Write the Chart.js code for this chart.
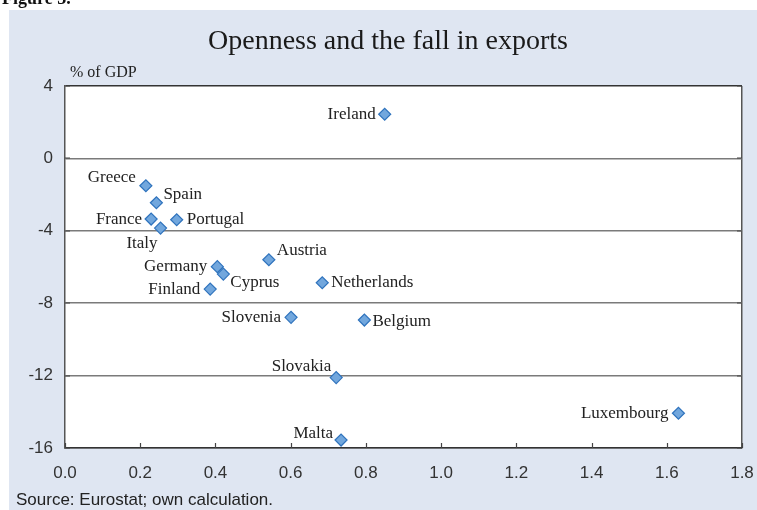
<!DOCTYPE html>
<html>
<head>
<meta charset="utf-8">
<title>Openness and the fall in exports</title>
<script src="https://cdn.jsdelivr.net/npm/chart.js@4/dist/chart.umd.min.js"></script>
<style>
  body { margin: 0; background: #ffffff; }
  #chart { display: block; }
</style>
</head>
<body>
<canvas id="chart" width="757" height="510"></canvas>
<script>
// data
const countries = ['Ireland', 'Greece', 'Spain', 'France', 'Italy', 'Portugal', 'Austria', 'Germany',
	'Cyprus', 'Finland', 'Netherlands', 'Slovenia', 'Belgium', 'Slovakia', 'Luxembourg', 'Malta'];
const openness = [0.85, 0.215, 0.243, 0.229, 0.254, 0.297, 0.542, 0.405,
	0.421, 0.386, 0.684, 0.601, 0.796, 0.721, 1.631, 0.734];
const exportFall = [2.44, -1.51, -2.45, -3.35, -3.85, -3.39, -5.6, -5.98,
	-6.39, -7.22, -6.87, -8.78, -8.93, -12.11, -14.08, -15.56];
const xTicks = [0, 0.2, 0.4, 0.6, 0.8, 1.0, 1.2, 1.4, 1.6, 1.8];
const yTicks = [4, 0, -4, -8, -12, -16];

// where each country name sits next to its marker: [align, dx, dy]
const labelPlacement = [
	['right', -9, 0], ['right', -10, -8], ['left', 7, -8], ['right', -9, 0],
	['right', -3, 15], ['left', 10, 0], ['left', 8, -9], ['right', -10, 0],
	['left', 7, 8], ['right', -10, 0], ['left', 9, 0], ['right', -10, 0],
	['left', 8, 1], ['right', -5, -11], ['right', -10, 0], ['right', -8, -7]
];

const PANEL = '#dfe6f2';
const SERIF = '"Liberation Serif", "Times New Roman", serif';
const SANS = '"Liberation Sans", Arial, sans-serif';

const points = openness.map((x, i) => ({ x: x, y: exportFall[i] }));

const decorPlugin = {
	id: 'decor',
	beforeDraw(chart) {
		const ctx = chart.ctx;
		const a = chart.chartArea;
		ctx.save();
		ctx.fillStyle = '#ffffff';
		ctx.fillRect(0, 0, chart.width, chart.height);
		ctx.fillStyle = PANEL;
		ctx.fillRect(9, 10, chart.width - 9, chart.height - 10);
		ctx.fillStyle = '#ffffff';
		ctx.fillRect(a.left, a.top, a.right - a.left, a.bottom - a.top);

		// figure number, cut off at the top edge
		ctx.fillStyle = '#111';
		ctx.font = 'bold 18px ' + SERIF;
		ctx.textBaseline = 'alphabetic';
		ctx.textAlign = 'left';
		ctx.fillText('Figure 3.', 2, 4);

		// title
		ctx.fillStyle = '#1a1a1a';
		ctx.font = '28px ' + SERIF;
		ctx.textAlign = 'center';
		ctx.textBaseline = 'middle';
		ctx.fillText('Openness and the fall in exports', 388, 42);
		ctx.restore();
	},
	afterDraw(chart) {
		const ctx = chart.ctx;
		const a = chart.chartArea;
		const xs = chart.scales.x;
		const ys = chart.scales.y;
		ctx.save();
		// inner tick marks
		ctx.strokeStyle = '#444';
		ctx.lineWidth = 1.2;
		ctx.beginPath();
		xs.ticks.forEach(t => {
			const px = Math.round(xs.getPixelForValue(t.value)) + 0.5;
			ctx.moveTo(px, a.bottom);
			ctx.lineTo(px, a.bottom - 5);
		});
		ys.ticks.forEach(t => {
			const py = Math.round(ys.getPixelForValue(t.value));
			ctx.moveTo(a.left, py);
			ctx.lineTo(a.left + 5, py);
			ctx.moveTo(a.right, py);
			ctx.lineTo(a.right - 5, py);
		});
		ctx.stroke();

		ctx.fillStyle = '#222';
		ctx.font = '16px ' + SERIF;
		ctx.textAlign = 'left';
		ctx.textBaseline = 'middle';
		ctx.fillText('% of GDP', 70, 73);

		ctx.fillStyle = '#222';
		ctx.font = '17px ' + SANS;
		ctx.fillText('Source: Eurostat; own calculation.', 16, 500);
		ctx.restore();
	},
	afterDatasetsDraw(chart) {
		const ctx = chart.ctx;
		const meta = chart.getDatasetMeta(0);
		ctx.save();
		ctx.fillStyle = '#222';
		ctx.font = '17px ' + SERIF;
		ctx.textBaseline = 'middle';
		meta.data.forEach((pt, i) => {
			const p = labelPlacement[i];
			ctx.textAlign = p[0];
			ctx.fillText(countries[i], pt.x + p[1], pt.y + p[2]);
		});
		ctx.restore();
	}
};

new Chart(document.getElementById('chart'), {
	type: 'scatter',
	data: {
		datasets: [{
			label: 'Openness vs fall in exports',
			data: points,
			pointStyle: 'rectRot',
			pointRadius: 6,
			pointHoverRadius: 6,
			backgroundColor: '#72a7dd',
			borderColor: '#2f73bd',
			borderWidth: 1.2
		}]
	},
	options: {
		responsive: false,
		animation: false,
		layout: {
			padding: { top: 86, left: 9, right: 15, bottom: 0 }
		},
		plugins: {
			legend: { display: false },
			tooltip: { enabled: false },
			title: { display: false }
		},
		scales: {
			x: {
				type: 'linear',
				min: xTicks[0],
				max: xTicks[xTicks.length - 1],
				afterBuildTicks: scale => {
					scale.ticks = xTicks.map(v => ({ value: v }));
				},
				afterFit: scale => {
					scale.height = 62;
					scale.paddingLeft = 0;
					scale.paddingRight = 0;
				},
				border: { color: '#333', width: 1.5 },
				grid: {
					drawTicks: false,
					lineWidth: 1.5,
					color: c => c.index === xTicks.length - 1 ? '#555' : 'rgba(0,0,0,0)'
				},
				ticks: {
					padding: 15,
					color: '#333',
					font: { family: SANS, size: 17 },
					callback: v => Number(v).toFixed(1)
				}
			},
			y: {
				type: 'linear',
				min: yTicks[yTicks.length - 1],
				max: yTicks[0],
				afterBuildTicks: scale => {
					scale.ticks = yTicks.slice().reverse().map(v => ({ value: v }));
				},
				afterFit: scale => {
					scale.width = 56;
					scale.paddingTop = 0;
					scale.paddingBottom = 0;
				},
				border: { color: '#555', width: 1.5 },
				grid: {
					drawTicks: false,
					lineWidth: 1.5,
					color: c => c.tick && c.tick.value === yTicks[0] ? '#333' : '#7a7a7a'
				},
				ticks: {
					padding: 12,
					color: '#333',
					font: { family: SANS, size: 17 },
					callback: v => String(v)
				}
			}
		}
	},
	plugins: [decorPlugin]
});
</script>
</body>
</html>
